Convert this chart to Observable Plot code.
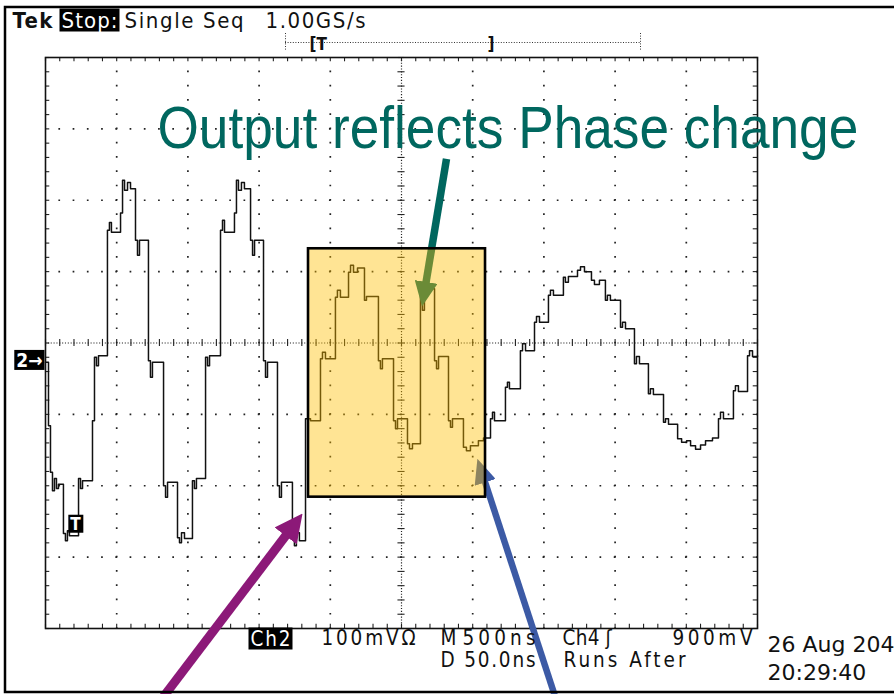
<!DOCTYPE html>
<html><head><meta charset="utf-8">
<script src="https://cdn.jsdelivr.net/npm/d3@7"></script>
<script src="https://cdn.jsdelivr.net/npm/@observablehq/plot@0.6"></script>
<style>html,body{margin:0;padding:0;background:#fff;overflow:hidden;}</style>
</head><body><div id="chart"></div>
<script>
// ---- data (time in ns, Ch2 in mV; 500 ns/div, 100 mV/div) ----
const traceSamples = [
 [0,-27],[21,-116],[35,-181],[49,-207],[63,-190],[77,-204],[91,-198],[126,-267],[140,-277],[154,-263],[168,-270],
 [232,-190],[246,-204],[260,-193],[330,-109],[344,-20],[358,-32],[372,-18],[435,158],[449,169],[463,155],
 [527,182],[541,228],[555,214],[576,225],[597,216],[632,144],[646,123],[660,144],[723,-25],[737,-48],[751,-27],
 [829,-200],[843,-216],[857,-195],[927,-273],[941,-280],[955,-266],[976,-274],[1032,-193],[1046,-204],[1060,-190],
 [1124,-20],[1138,-32],[1152,-18],[1229,158],[1243,172],[1257,155],[1327,182],[1341,228],[1355,214],[1376,225],[1397,216],
 [1440,144],[1454,123],[1468,144],[1531,-25],[1545,-48],[1559,-27],[1629,-200],[1643,-216],[1657,-195],
 [1734,-273],[1748,-284],[1762,-266],[1783,-277],[1826,-106],[1861,-109],[1931,-22],[1945,-13],[1966,-22],
 [2036,64],[2050,74],[2071,64],[2128,99],[2142,109],[2163,99],[2191,105],[2240,60],[2254,65],
 [2338,-25],[2352,-36],[2366,-22],[2444,-109],[2458,-120],[2472,-106],[2542,-141],[2556,-148],[2577,-141],
 [2633,69],[2647,46],[2661,69],[2690,76],[2732,-25],[2746,-36],[2760,-19],[2830,-109],[2844,-118],[2858,-106],
 [2935,-146],[2956,-151],[2984,-144],[3040,-137],[3076,-133],[3125,-106],[3139,-97],[3153,-109],
 [3230,-62],[3244,-55],[3258,-64],[3335,-11],[3350,-1],[3371,-11],[3434,29],[3448,37],[3469,29],
 [3532,67],[3546,74],[3567,67],[3637,92],[3651,85],[3672,93],[3736,102],[3757,107],[3785,100],
 [3834,88],[3855,82],[3890,88],[3932,60],[3946,67],[3967,60],[4038,22],[4052,29],[4073,20],
 [4136,-29],[4150,-19],[4171,-29],[4234,-71],[4248,-64],[4269,-72],[4340,-111],[4354,-106],[4375,-114],
 [4439,-134],[4467,-139],[4502,-137],[4530,-144],[4565,-149],[4600,-143],[4635,-137],[4684,-133],
 [4726,-106],[4740,-97],[4761,-106],[4831,-67],[4845,-60],[4866,-68],[4930,-18],[4944,-11],[4965,-19],[5000,-18]
];
const groundMv = -25;              // Ch2 ground marker level
const triggerMarker = [211, -254]; // "T" marker position
const highlightNs = [1847, 3090];
const highlightMv = [-216, 132];
const arrowNames = ["phase", "input", "output"];
const arrowTailNs = [2816, 808, 3588];
const arrowTailMv = [258, -501, -501];
const arrowTipNs = [2644, 1805, 3033];
const arrowTipMv = [51, -239, -162];
const titleText = "Output reflects Phase change";
const headerLabels = ["Tek", "Stop:", "Single Seq", "1.00GS/s"];
const footerRow1 = ["Ch2", "100mV\u03A9", "M", "500ns", "Ch4", "\u0283", "900mV"];
const footerRow2 = ["D 50.0ns", "Runs After"];
const dateLabels = ["26 Aug 204", "20:29:40"];
const inverseLabels = ["Stop:", "Ch2", "2\u2192", "T"];

// ---- layout ----
const W = 894, H = 694, ML = 45, MR = 137, MT = 57, MB = 66;
const PW = W - ML - MR, PH = H - MT - MB;
const tx = px => (px - ML) * 5000 / PW;
const vy = py => 400 - (py - MT) * 800 / PH;
const dX = PW / 50, dY = PH / 40;

const xMajor = d3.range(500, 5000, 500).filter(d => d !== 2500);
const yMajor = d3.range(-300, 400, 100).filter(d => d !== 0);
const xMinor = d3.range(0, 5001, 100);
const yMinor = d3.range(-400, 401, 20);

const trace = traceSamples.map(([t, v]) => ({t, v}));
const arrowColors = ["#00675F", "#8C1978", "#3C5AA5"];
const arrowWidths = [7.5, 9, 6.5];
const arrowHeads = [[25, 11.5], [28, 14], [25, 11]];

const COND = "DejaVu Sans Condensed, DejaVu Sans, sans-serif";
function label(text, px, py, o = {}) {
  return Plot.text([text], {x: () => tx(px), y: () => vy(py), text: d => d, textAnchor: "start",
    lineAnchor: o.anchor || "bottom", fontFamily: o.font || COND, fontSize: o.size || 20.5,
    fontWeight: o.weight || "normal", fill: o.fill || "#111"});
}
const textLengths = new Map([
  ["Tek", 40], ["Stop:", 56], ["Single Seq", 119], ["1.00GS/s", 100],
  ["Ch2", 40], ["100mV\u03A9", 94], ["500ns", 73], ["Ch4", 37], ["900mV", 80],
  ["D 50.0ns", 95], ["Runs After", 122]
]);

const marks = [
  Plot.ruleX(xMajor, {stroke: "#222", strokeWidth: 1.7, strokeDasharray: `1.7 ${dY - 1.7}`, strokeDashoffset: 0.85}),
  Plot.ruleY(yMajor, {stroke: "#222", strokeWidth: 1.7, strokeDasharray: `1.7 ${dX - 1.7}`, strokeDashoffset: 0.85}),
  Plot.ruleX([2500], {stroke: "#222", strokeWidth: 1.2, strokeDasharray: `1.1 ${dY / 5 - 1.1}`}),
  Plot.ruleY([0], {stroke: "#222", strokeWidth: 1.2, strokeDasharray: `1.1 ${dX / 5 - 1.1}`}),
  Plot.ruleX(xMinor, {y1: -5, y2: 5, stroke: "#222", strokeWidth: 1.1}),
  Plot.ruleY(yMinor, {x1: 2475, x2: 2525, stroke: "#222", strokeWidth: 1.1}),
  Plot.ruleX(xMinor, {y1: 400, y2: 394, stroke: "#222", strokeWidth: 1.1}),
  Plot.ruleX(xMinor, {y1: -400, y2: -394, stroke: "#222", strokeWidth: 1.1}),
  Plot.ruleY(yMinor, {x1: 0, x2: 30, stroke: "#222", strokeWidth: 1.1}),
  Plot.ruleY(yMinor, {x1: 5000, x2: 4970, stroke: "#222", strokeWidth: 1.1}),
  Plot.frame({stroke: "#111", strokeWidth: 1.6}),
  Plot.line(trace, {x: "t", y: "v", curve: "step-after", stroke: "#111", strokeWidth: 1.5}),
  ...arrowNames.map((n, i) => Plot.link([i], {x1: d => arrowTailNs[d], y1: d => arrowTailMv[d],
    x2: d => arrowTipNs[d], y2: d => arrowTipMv[d], stroke: arrowColors[i], strokeWidth: arrowWidths[i]})),
  Plot.rect([0], {x1: () => highlightNs[0], x2: () => highlightNs[1], y1: () => highlightMv[0], y2: () => highlightMv[1],
    fill: "#FFBE00", fillOpacity: 0.42}),
  Plot.rect([0], {x1: () => highlightNs[0], x2: () => highlightNs[1], y1: () => highlightMv[0], y2: () => highlightMv[1],
    fill: "none", stroke: "#000", strokeWidth: 2.6}),
  // trigger record bar
  Plot.ruleY([vy(42)], {x1: tx(285), x2: tx(640), stroke: "#333", strokeWidth: 1, strokeDasharray: "1 1.6"}),
  Plot.ruleX([tx(285), tx(640)], {y1: vy(33), y2: vy(51), stroke: "#333", strokeWidth: 1, strokeDasharray: "1 1.6"}),
  label("[T", 309, 49, {size: 17, weight: "bold"}),
  label("]", 487, 49, {size: 17, weight: "bold"}),
  // markers
  Plot.text([groundMv], {x: () => 0, y: d => d, text: () => inverseLabels[2], textAnchor: "end", dx: -3,
    fontFamily: COND, fontWeight: "bold", fontSize: 19, fill: "#fff"}),
  Plot.text([triggerMarker], {x: d => d[0], y: d => d[1], text: () => inverseLabels[3], fontFamily: COND,
    fontWeight: "bold", fontSize: 17, fill: "#fff"}),
  // title
  Plot.text([titleText], {x: () => tx(157), y: () => vy(147), text: d => d, textAnchor: "start", lineAnchor: "bottom",
    fontFamily: "Liberation Sans, Arial, sans-serif", fontSize: 60, fill: "#00675F"}),
  // header
  label(headerLabels[0], 12, 27, {size: 22, weight: "bold"}),
  label(headerLabels[1], 61, 27, {size: 22, fill: "#fff"}),
  label(headerLabels[2], 124, 27, {size: 22}),
  label(headerLabels[3], 265, 27, {size: 22}),
  // footer
  label(footerRow1[0], 250, 645, {fill: "#fff"}),
  label(footerRow1[1], 321, 644),
  label(footerRow1[2], 440, 644),
  label(footerRow1[3], 462, 644),
  label(footerRow1[4], 562, 644),
  label(footerRow1[5], 605, 644),
  label(footerRow1[6], 672, 644),
  label(footerRow2[0], 440, 666),
  label(footerRow2[1], 563, 666),
  label(dateLabels[0], 767, 651, {font: "DejaVu Sans, sans-serif", size: 22}),
  label(dateLabels[1], 767, 679, {font: "DejaVu Sans, sans-serif", size: 22})
];

const plot = Plot.plot({
  width: W, height: H, marginLeft: ML, marginRight: MR, marginTop: MT, marginBottom: MB,
  x: {domain: [0, 5000], axis: null}, y: {domain: [-400, 400], axis: null},
  style: {background: "#fff"}, marks
});
document.getElementById("chart").appendChild(plot);

// ---- post-processing: text widths, inverse boxes, arrowheads, screen frame ----
const root = d3.select(plot);
const NS = "http://www.w3.org/2000/svg";
root.selectAll("text").each(function () {
  const s = this.textContent;
  const L = textLengths.get(s);
  if (L) { this.setAttribute("textLength", L); this.setAttribute("lengthAdjust", "spacing"); }
  if (s === titleText) {
    const k = 701 / this.getComputedTextLength();
    const t = this.getAttribute("transform") || "";
    this.setAttribute("transform", `${t} scale(${k},1)`);
  }
});
root.selectAll("text").filter(function () { return inverseLabels.includes(this.textContent); }).each(function () {
  const b = this.getBBox();
  const r = document.createElementNS(NS, "rect");
  r.setAttribute("x", b.x - 2); r.setAttribute("y", b.y + 1);
  r.setAttribute("width", b.width + 4); r.setAttribute("height", b.height - 2);
  r.setAttribute("fill", "#000");
  if (this.getAttribute("transform")) r.setAttribute("transform", this.getAttribute("transform"));
  this.parentNode.insertBefore(r, this);
});
const defs = root.append("defs");
arrowNames.forEach((n, i) => {
  const [hl, hw] = arrowHeads[i];
  defs.append("marker").attr("id", "head-" + n).attr("markerUnits", "userSpaceOnUse")
    .attr("viewBox", `0 ${-hw} ${hl} ${2 * hw}`).attr("markerWidth", hl).attr("markerHeight", 2 * hw)
    .attr("refX", hl).attr("refY", 0).attr("orient", "auto")
    .append("path").attr("d", `M0,${-hw}L${hl},0L0,${hw}Z`).attr("fill", arrowColors[i]);
  root.selectAll("path").filter(function () {
    const s = this.getAttribute("stroke") || (this.parentNode && this.parentNode.getAttribute && this.parentNode.getAttribute("stroke"));
    return s === arrowColors[i];
  }).each(function () {
    const L = this.getTotalLength();
    this.setAttribute("stroke-dasharray", `${L - hl + 2} ${L}`);
    this.setAttribute("marker-end", `url(#head-${n})`);
  });
});
root.append("path").attr("d", "M894,7H5V692H894").attr("fill", "none").attr("stroke", "#000").attr("stroke-width", 2.5);
</script></body></html>
